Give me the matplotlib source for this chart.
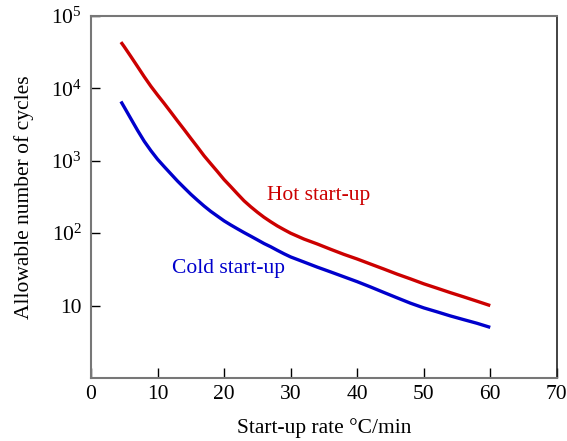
import matplotlib
matplotlib.use("Agg")
import matplotlib.pyplot as plt
from matplotlib.ticker import FixedLocator, NullLocator

# Values (allowable cycles vs start-up rate)
rate = [4.5, 5, 6, 7, 8, 9, 10, 11, 12, 13, 14, 15, 16, 17, 18, 19, 20,
        21, 22, 23, 24, 25, 26, 27, 28, 29, 30, 32, 34, 36, 38, 40,
        42, 44, 46, 48, 50, 52, 54, 56, 58, 60]
cycles_hot = [43600, 37600, 27500, 20000, 14500, 10700, 8100, 6200, 4700, 3550,
              2700, 2040, 1550, 1170, 910, 710, 550, 440, 350, 280, 232, 195,
              166, 144, 126, 112, 100, 83, 71, 60, 51, 44, 37.5, 32, 27.2, 23.4,
              20, 17.4, 15.1, 13.2, 11.5, 10]
cycles_cold = [6600, 5500, 3800, 2630, 1860, 1380, 1050, 830, 660, 525, 425,
               345, 285, 237, 200, 172, 148, 130, 115, 102, 91, 81, 72, 65,
               58, 52, 47, 40, 34, 29.2, 25, 21.4, 18.1, 15.2, 12.8, 10.8,
               9.3, 8.2, 7.2, 6.4, 5.7, 5.0]

x_ticks = [0, 10, 20, 30, 40, 50, 60, 70]
y_ticks = [10, 1e2, 1e3, 1e4, 1e5]
y_tick_labels = ["10", r"$10^2$", r"$10^3$", r"$10^4$", r"$10^5$"]

plt.rcParams["font.family"] = ["Liberation Serif", "DejaVu Serif"]
plt.rcParams["mathtext.fontset"] = "custom"
plt.rcParams["mathtext.rm"] = "Liberation Serif"
plt.rcParams["mathtext.it"] = "Liberation Serif:italic"

fs = 15.5
red = "#cc0000"
blue = "#0000cc"

fig = plt.figure(figsize=(5.67, 4.41), dpi=100)
ax = fig.add_axes([0.1605, 0.1429, 0.8215, 0.8208])

ax.plot(rate, cycles_hot, color=red, lw=2.4, solid_capstyle="butt", solid_joinstyle="round")
ax.plot(rate, cycles_cold, color=blue, lw=2.4, solid_capstyle="butt", solid_joinstyle="round")

ax.text(26.5, 330, "Hot start-up", color=red, fontsize=fs, va="center", ha="left")
ax.text(12.2, 33, "Cold start-up", color=blue, fontsize=fs, va="center", ha="left")

ax.set_yscale("log")
ax.set_xlim(0, 70)
ax.set_ylim(1, 1e5)

ax.xaxis.set_major_locator(FixedLocator(x_ticks))
ax.yaxis.set_major_locator(FixedLocator(y_ticks))
ax.yaxis.set_minor_locator(NullLocator())
ax.set_yticklabels(y_tick_labels)

ax.tick_params(axis="x", direction="in", length=7, width=1, labelsize=fs, pad=5, color="black")
ax.tick_params(axis="y", direction="in", length=6.5, width=1, labelsize=fs, pad=6.5, color="black")

for side in ["left", "bottom", "top"]:
    ax.spines[side].set_color("#777777")
    ax.spines[side].set_linewidth(1.5)
ax.spines["right"].set_color("#222222")
ax.spines["right"].set_linewidth(1.2)

ax.set_xlabel("Start-up rate \u00b0C/min", fontsize=fs, labelpad=10)
ax.set_ylabel("Allowable number of cycles", fontsize=fs, labelpad=12)

fig.savefig("out.png", dpi=100)
